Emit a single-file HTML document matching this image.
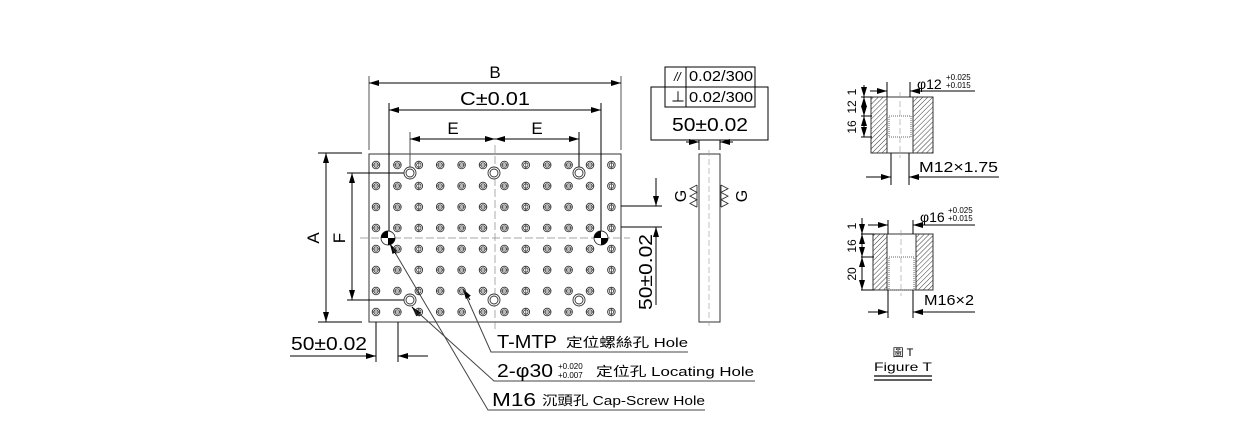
<!DOCTYPE html>
<html><head><meta charset="utf-8"><style>
html,body{margin:0;padding:0;background:#fff;}
svg{display:block;}
text{font-family:"Liberation Sans","Noto Sans CJK TC",sans-serif;fill:#000;}
</style></head><body>
<svg width="1240" height="434" viewBox="0 0 1240 434" xmlns="http://www.w3.org/2000/svg">
<defs>
<marker id="a" viewBox="0 0 10 6" refX="10" refY="3" markerWidth="10" markerHeight="6" orient="auto-start-reverse" markerUnits="userSpaceOnUse"><path d="M0,0L10,3L0,6z" fill="#000"/></marker>
<g id="h"><circle r="3.8" fill="none" stroke="#333" stroke-width="0.9"/><circle r="2.2" fill="none" stroke="#333" stroke-width="0.8"/><line x1="-3.8" y1="0" x2="3.8" y2="0" stroke="#333" stroke-width="0.7"/></g>
<g id="hv"><circle r="3.8" fill="none" stroke="#333" stroke-width="0.9"/><circle r="2.2" fill="none" stroke="#333" stroke-width="0.8"/><line x1="0" y1="-3.8" x2="0" y2="3.8" stroke="#333" stroke-width="0.7"/></g>
<g id="r"><use href="#h" x="376"/><use href="#h" x="397.4"/><use href="#hv" x="418.8"/><use href="#h" x="440.2"/><use href="#h" x="461.6"/><use href="#h" x="483"/><use href="#h" x="504.4"/><use href="#hv" x="525.8"/><use href="#h" x="547.2"/><use href="#h" x="568.6"/><use href="#h" x="590"/><use href="#hv" x="611.4"/></g>
<pattern id="hat" width="3.5" height="3.5" patternUnits="userSpaceOnUse" patternTransform="rotate(45)"><line x1="0" y1="0" x2="0" y2="3.5" stroke="#222" stroke-width="0.9"/></pattern>
</defs>
<g stroke="#000" stroke-width="1" fill="none">
<rect x="369" y="154" width="252" height="168" stroke="#333"/>
<line x1="360" y1="238" x2="630" y2="238" stroke="#888" stroke-width="0.7" stroke-dasharray="8,3"/>
<line x1="495" y1="145" x2="495" y2="330" stroke="#888" stroke-width="0.7" stroke-dasharray="8,3"/>
<line x1="369" y1="76" x2="369" y2="150" stroke="#555"/>
<line x1="621" y1="76" x2="621" y2="150" stroke="#555"/>
<line x1="369" y1="83" x2="621" y2="83" marker-start="url(#a)" marker-end="url(#a)"/>
<line x1="389" y1="103" x2="389" y2="238"/>
<line x1="601" y1="103" x2="601" y2="238"/>
<line x1="389" y1="110" x2="601" y2="110" marker-start="url(#a)" marker-end="url(#a)"/>
<line x1="410" y1="132" x2="410" y2="172" stroke="#555"/>
<line x1="579" y1="132" x2="579" y2="172"/>
<line x1="410" y1="139" x2="495" y2="139" marker-start="url(#a)" marker-end="url(#a)"/>
<line x1="495" y1="139" x2="579" y2="139" marker-start="url(#a)" marker-end="url(#a)"/>
<line x1="318" y1="153" x2="362" y2="153"/>
<line x1="318" y1="322" x2="362" y2="322"/>
<line x1="326" y1="153" x2="326" y2="322" marker-start="url(#a)" marker-end="url(#a)"/>
<line x1="347" y1="173" x2="404" y2="173"/>
<line x1="347" y1="300" x2="404" y2="300"/>
<line x1="352" y1="173" x2="352" y2="300" marker-start="url(#a)" marker-end="url(#a)"/>
<line x1="621" y1="206" x2="662" y2="206"/>
<line x1="621" y1="227" x2="662" y2="227"/>
<line x1="656" y1="178" x2="656" y2="206" marker-end="url(#a)"/>
<line x1="656" y1="227" x2="656" y2="305" marker-start="url(#a)"/>
<line x1="376" y1="322" x2="376" y2="362"/>
<line x1="398" y1="322" x2="398" y2="362"/>
<line x1="290" y1="356" x2="376" y2="356" marker-end="url(#a)"/>
<line x1="398" y1="356" x2="428" y2="356" marker-start="url(#a)"/>
<polyline points="463,289 491,352 688,352" stroke="#444"/>
<line x1="463" y1="289" x2="470" y2="300" marker-start="url(#a)"/>
<polyline points="412,307 494,381 755,381" stroke="#444"/>
<line x1="412" y1="307" x2="420" y2="316" marker-start="url(#a)"/>
<polyline points="390,244 488,410 705,410" stroke="#444"/>
<line x1="390" y1="244" x2="396" y2="254" marker-start="url(#a)"/>
<rect x="699" y="154" width="21" height="168" stroke="#333"/>
<line x1="709" y1="150" x2="709" y2="326" stroke="#999" stroke-width="0.6" stroke-dasharray="6,3"/>
<line x1="699" y1="140" x2="699" y2="150"/><line x1="720" y1="140" x2="720" y2="150"/>
<line x1="686" y1="142" x2="699" y2="142" marker-end="url(#a)"/>
<line x1="720" y1="142" x2="733" y2="142" marker-start="url(#a)"/>
<rect x="651" y="87" width="117" height="53"/>
<rect x="665" y="67" width="90" height="40" fill="#fff"/>
<line x1="665" y1="87" x2="755" y2="87"/>
<line x1="686" y1="67" x2="686" y2="107"/>
<path d="M697,185v22 M697,185l-7,3.7l7,3.7l-7,3.7l7,3.7l-7,3.7l7,3.7" stroke="#333" stroke-width="0.9"/>
<path d="M721,185v22 M721,185l7,3.7l-7,3.7l7,3.7l-7,3.7l7,3.7l-7,3.7" stroke="#333" stroke-width="0.9"/>
<rect x="871" y="97" width="62" height="56" fill="url(#hat)" stroke="#333"/>
<rect x="887" y="97" width="26" height="56" fill="#fff" stroke="#333"/>
<rect x="889" y="116" width="22" height="21" fill="none" stroke="#666" stroke-dasharray="1,1"/>
<line x1="900" y1="92" x2="900" y2="158" stroke="#999" stroke-width="0.6" stroke-dasharray="6,3"/>
<line x1="861" y1="97" x2="872" y2="97"/><line x1="861" y1="116" x2="872" y2="116"/><line x1="861" y1="137" x2="872" y2="137"/>
<line x1="864" y1="85" x2="864" y2="97" marker-end="url(#a)"/>
<line x1="864" y1="97" x2="864" y2="116" marker-start="url(#a)" marker-end="url(#a)"/>
<line x1="864" y1="116" x2="864" y2="137" marker-start="url(#a)" marker-end="url(#a)"/>
<line x1="887" y1="82" x2="887" y2="97"/><line x1="910" y1="82" x2="910" y2="97"/>
<line x1="870" y1="91" x2="887" y2="91" marker-end="url(#a)"/>
<line x1="910" y1="91" x2="975" y2="91" marker-start="url(#a)"/>
<line x1="891" y1="153" x2="891" y2="185"/><line x1="909" y1="153" x2="909" y2="185"/>
<line x1="866" y1="177" x2="891" y2="177" marker-end="url(#a)"/>
<line x1="909" y1="177" x2="999" y2="177" marker-start="url(#a)"/>
<rect x="873" y="234" width="60" height="56" fill="url(#hat)" stroke="#333"/>
<rect x="887" y="234" width="29" height="56" fill="#fff" stroke="#333"/>
<rect x="889" y="257" width="25" height="33" fill="none" stroke="#666" stroke-dasharray="1,1"/>
<line x1="901" y1="230" x2="901" y2="296" stroke="#999" stroke-width="0.6" stroke-dasharray="6,3"/>
<line x1="861" y1="234" x2="874" y2="234"/><line x1="861" y1="257" x2="874" y2="257"/><line x1="861" y1="290" x2="874" y2="290"/>
<line x1="862" y1="218" x2="862" y2="234" marker-end="url(#a)"/>
<line x1="862" y1="234" x2="862" y2="257" marker-start="url(#a)" marker-end="url(#a)"/>
<line x1="862" y1="257" x2="862" y2="290" marker-start="url(#a)" marker-end="url(#a)"/>
<line x1="888" y1="220" x2="888" y2="234"/><line x1="913" y1="220" x2="913" y2="234"/>
<line x1="868" y1="225" x2="888" y2="225" marker-end="url(#a)"/>
<line x1="913" y1="225" x2="975" y2="225" marker-start="url(#a)"/>
<line x1="888" y1="290" x2="888" y2="318"/><line x1="913" y1="290" x2="913" y2="318"/>
<line x1="868" y1="312" x2="888" y2="312" marker-end="url(#a)"/>
<line x1="913" y1="312" x2="975" y2="312" marker-start="url(#a)"/>
<line x1="874" y1="376" x2="932" y2="376" stroke-width="1.3"/>
<line x1="874" y1="380" x2="932" y2="380" stroke-width="1.3"/>
</g>
<use href="#r" y="165"/><use href="#r" y="186"/><use href="#r" y="207"/><use href="#r" y="228"/>
<use href="#r" y="249"/><use href="#r" y="270"/><use href="#r" y="291"/><use href="#r" y="312"/>
<g fill="#fff" stroke="#333" stroke-width="0.9">
<circle cx="410" cy="173" r="6"/><circle cx="410" cy="173" r="4"/>
<circle cx="494" cy="173" r="6"/><circle cx="494" cy="173" r="4"/>
<circle cx="579" cy="173" r="6"/><circle cx="579" cy="173" r="4"/>
<circle cx="410" cy="300" r="6"/><circle cx="410" cy="300" r="4"/>
<circle cx="494" cy="300" r="6"/><circle cx="494" cy="300" r="4"/>
<circle cx="579" cy="300" r="6"/><circle cx="579" cy="300" r="4"/>
<circle cx="388" cy="238" r="7"/><circle cx="601" cy="238" r="7"/>
</g>
<path d="M388,238h-7a7,7 0 0 1 7,-7z M388,238h7a7,7 0 0 1 -7,7z" fill="#000"/>
<path d="M601,238h-7a7,7 0 0 1 7,-7z M601,238h7a7,7 0 0 1 -7,7z" fill="#000"/>
<text x="495" y="78" font-size="17" text-anchor="middle">B</text>
<text x="460" y="105" font-size="18" textLength="70" lengthAdjust="spacingAndGlyphs">C±0.01</text>
<text x="453" y="134" font-size="17" text-anchor="middle">E</text>
<text x="537" y="134" font-size="17" text-anchor="middle">E</text>
<text transform="translate(319,238) rotate(-90)" font-size="17" text-anchor="middle">A</text>
<text transform="translate(345,238) rotate(-90)" font-size="17" text-anchor="middle">F</text>
<text transform="translate(652,310) rotate(-90)" font-size="18" textLength="76" lengthAdjust="spacingAndGlyphs">50±0.02</text>
<text x="291" y="350" font-size="18" textLength="76" lengthAdjust="spacingAndGlyphs">50±0.02</text>
<text x="497" y="348" font-size="18" textLength="60" lengthAdjust="spacingAndGlyphs">T-MTP</text>
<text x="566" y="347" font-size="13" textLength="122" lengthAdjust="spacingAndGlyphs">定位螺絲孔 Hole</text>
<text x="497" y="377" font-size="18" textLength="56" lengthAdjust="spacingAndGlyphs">2-φ30</text>
<text x="558" y="369" font-size="8">+0.020</text>
<text x="558" y="378" font-size="8">+0.007</text>
<text x="596" y="376" font-size="13" textLength="158" lengthAdjust="spacingAndGlyphs">定位孔 Locating Hole</text>
<text x="492" y="406" font-size="18" textLength="44" lengthAdjust="spacingAndGlyphs">M16</text>
<text x="542" y="405" font-size="13" textLength="163" lengthAdjust="spacingAndGlyphs">沉頭孔 Cap-Screw Hole</text>
<text x="674" y="81" font-size="12" font-style="italic">//</text>
<text x="689" y="81" font-size="15" textLength="64" lengthAdjust="spacingAndGlyphs">0.02/300</text>
<text x="671" y="102" font-size="14">⊥</text>
<text x="689" y="102" font-size="15" textLength="64" lengthAdjust="spacingAndGlyphs">0.02/300</text>
<text x="672" y="131" font-size="18" textLength="76" lengthAdjust="spacingAndGlyphs">50±0.02</text>
<text transform="translate(686,196) rotate(-90)" font-size="16" text-anchor="middle">G</text>
<text transform="translate(747,196) rotate(-90)" font-size="16" text-anchor="middle">G</text>
<text transform="translate(856,92) rotate(-90)" font-size="12" text-anchor="middle">1</text>
<text transform="translate(856,107) rotate(-90)" font-size="12" text-anchor="middle">12</text>
<text transform="translate(856,127) rotate(-90)" font-size="12" text-anchor="middle">16</text>
<text x="917" y="89" font-size="14">φ12</text>
<text x="946" y="80" font-size="8">+0.025</text>
<text x="946" y="88" font-size="8">+0.015</text>
<text x="919" y="172" font-size="15" textLength="79" lengthAdjust="spacingAndGlyphs">M12×1.75</text>
<text transform="translate(856,226) rotate(-90)" font-size="12" text-anchor="middle">1</text>
<text transform="translate(856,246) rotate(-90)" font-size="12" text-anchor="middle">16</text>
<text transform="translate(856,274) rotate(-90)" font-size="12" text-anchor="middle">20</text>
<text x="920" y="222" font-size="14">φ16</text>
<text x="948" y="213" font-size="8">+0.025</text>
<text x="948" y="221" font-size="8">+0.015</text>
<text x="924" y="305" font-size="15" textLength="50" lengthAdjust="spacingAndGlyphs">M16×2</text>
<text x="903" y="356" font-size="11" text-anchor="middle">圖 T</text>
<text x="903" y="371" font-size="12" text-anchor="middle" textLength="58" lengthAdjust="spacingAndGlyphs">Figure T</text>
</svg>
</body></html>
